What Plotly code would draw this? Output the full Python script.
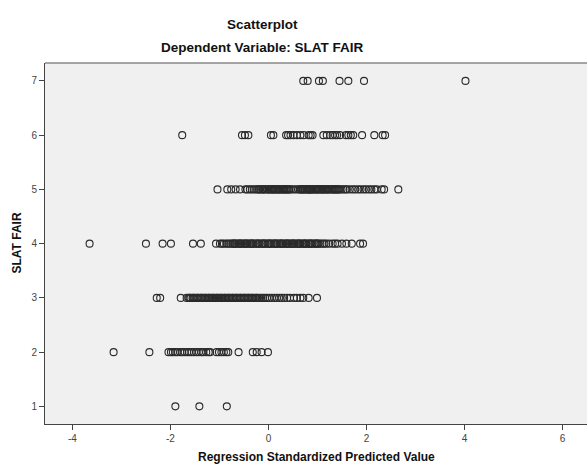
import plotly.graph_objects as go

# Regression standardized predicted values, grouped by observed SLAT FAIR level
pred_level_7 = [0.71, 0.80, 1.03, 1.11, 1.45, 1.63, 1.95, 4.02]
pred_level_6 = [-1.76, -0.54, -0.48, -0.41, 0.05, 0.10, 0.36, 0.40, 0.45, 0.51, 0.58, 0.65,
                0.72, 0.82, 0.86, 0.90, 1.12, 1.19, 1.26, 1.31, 1.36, 1.40, 1.46, 1.58,
                1.63, 1.68, 1.73, 1.91, 2.16, 2.33, 2.38]
pred_level_5 = [-1.04, -0.84, -0.76, -0.67, -0.58,
                -0.47, -0.43, -0.38, -0.34, -0.29, -0.25, -0.21, -0.17, -0.13, -0.09,
                -0.06, -0.02, 0.02, 0.05, 0.09, 0.13, 0.16, 0.20, 0.24, 0.27, 0.31,
                0.35, 0.39, 0.43, 0.46, 0.51, 0.56, 0.61, 0.66, 0.70, 0.74, 0.77, 0.81,
                0.84, 0.88, 0.92, 0.95, 0.99, 1.03, 1.06, 1.10, 1.14, 1.17, 1.21, 1.25,
                1.29, 1.33, 1.37, 1.41, 1.45, 1.49, 1.53, 1.57, 1.60,
                1.66, 1.72, 1.77, 1.83, 1.88, 1.94, 1.99, 2.05, 2.10, 2.16, 2.21,
                2.31, 2.36, 2.65,
                -0.19, -0.11, 0.00, 0.07, 0.11, 0.18, 0.22, 0.29, 0.33, 0.37, 0.41,
                0.64, 0.68, 0.72, 0.79, 0.83, 0.86, 0.90, 0.97, 1.01, 1.08, 1.12,
                1.19, 1.23, 1.31, 1.35, 1.39, 1.43]
pred_level_4 = [-3.65, -2.50, -2.16, -1.99, -1.54, -1.38, -1.07,
                -0.99, -0.95, -0.91, -0.86, -0.82, -0.78, -0.74, -0.70, -0.66, -0.62,
                -0.58, -0.54, -0.50, -0.46, -0.42, -0.38, -0.34, -0.30, -0.26, -0.22,
                -0.18, -0.14, -0.10, -0.06, -0.02, 0.02, 0.06, 0.10, 0.14, 0.18, 0.22,
                0.26, 0.30, 0.34, 0.38, 0.42, 0.46, 0.50, 0.54, 0.58, 0.62, 0.66, 0.70,
                0.74, 0.78, 0.82, 0.86, 0.90, 0.94, 0.98, 1.02, 1.06, 1.10, 1.14, 1.18,
                1.24, 1.31, 1.36, 1.41, 1.50, 1.59, 1.70, 1.87, 1.93,
                -0.72, -0.68, -0.60, -0.56, -0.48, -0.44, -0.36, -0.32, -0.24, -0.20,
                -0.12, -0.08, 0.00, 0.04, 0.12, 0.16, 0.24, 0.28, 0.36, 0.40, 0.48,
                0.52, 0.60, 0.64, 0.72, 0.76, 0.84, 0.88, 0.96, 1.00]
pred_level_3 = [-2.28, -2.21, -1.79,
                -1.67, -1.63, -1.59, -1.55, -1.51, -1.47, -1.43, -1.39, -1.35, -1.31,
                -1.27, -1.23, -1.19, -1.15, -1.11, -1.07, -1.03, -0.99, -0.95, -0.91,
                -0.87, -0.83, -0.79, -0.75, -0.71, -0.67, -0.63, -0.59, -0.55, -0.51,
                -0.47, -0.43, -0.39, -0.35, -0.31, -0.27, -0.23, -0.19, -0.15, -0.11,
                -0.07, -0.03, 0.02, 0.07, 0.12, 0.17, 0.22, 0.27, 0.32, 0.38, 0.44,
                0.52, 0.58, 0.65, 0.71, 0.82, 0.99,
                -1.61, -1.53, -1.45, -1.37, -1.29, -1.21, -1.13, -1.05, -0.97, -0.89,
                -0.81, -0.73, -0.65, -0.57, -0.49, -0.41, -0.33, -0.25]
pred_level_2 = [-3.16, -2.43,
                -2.04, -1.99, -1.95, -1.90, -1.86, -1.80, -1.76, -1.71, -1.66, -1.62,
                -1.57, -1.52, -1.47, -1.42, -1.37, -1.33, -1.27, -1.22, -1.19,
                -1.06, -1.01, -0.96, -0.91, -0.86, -0.82, -0.61,
                -0.32, -0.24, -0.14, -0.01]
pred_level_1 = [-1.90, -1.41, -0.85]

levels = [7, 6, 5, 4, 3, 2, 1]
groups = [pred_level_7, pred_level_6, pred_level_5, pred_level_4,
          pred_level_3, pred_level_2, pred_level_1]

x_ticks = [-4, -2, 0, 2, 4, 6]
x_tick_labels = ["-4", "-2", "0", "2", "4", "6"]
y_ticks = [1, 2, 3, 4, 5, 6, 7]

title_text = "Scatterplot"
subtitle_text = "Dependent Variable: SLAT FAIR"
x_title = "Regression Standardized Predicted Value"
y_title = "SLAT FAIR"

xs, ys = [], []
for lvl, vals in zip(levels, groups):
    xs.extend(vals)
    ys.extend([lvl] * len(vals))

FONT = "Arial, 'Liberation Sans', sans-serif"

fig = go.Figure()
fig.add_trace(go.Scatter(
    x=xs, y=ys, mode="markers",
    marker=dict(symbol="circle-open", size=7, color="#2b2b2b",
                line=dict(width=1.1, color="#2b2b2b")),
    showlegend=False, hoverinfo="x+y",
))

fig.update_layout(
    width=587, height=466,
    margin=dict(l=45, r=0, t=63, b=42),
    paper_bgcolor="white",
    plot_bgcolor="#f0f0f0",
    font=dict(family=FONT, size=10, color="#444444"),
    xaxis=dict(
        range=[-4.56, 6.5], tickvals=x_ticks, ticktext=x_tick_labels,
        ticks="outside", ticklen=5,
        tickcolor="#444444", showline=True, linecolor="#444444", linewidth=1,
        showgrid=False, zeroline=False, tickfont=dict(size=10, color="#444444"),
    ),
    yaxis=dict(
        range=[0.675, 7.33], tickvals=y_ticks, ticks="outside", ticklen=5,
        tickcolor="#444444", showline=True, linecolor="#444444", linewidth=1,
        showgrid=False, zeroline=False, tickfont=dict(size=10, color="#444444"),
    ),
    shapes=[dict(type="line", xref="paper", yref="paper", x0=0, x1=1, y0=1, y1=1,
                 line=dict(color="#8a8a8a", width=1.5))],
    annotations=[
        dict(text="<b>%s</b>" % title_text, xref="paper", yref="paper",
             x=0.402, y=1.108, xanchor="center", yanchor="middle", showarrow=False,
             font=dict(family=FONT, size=13.5, color="#111111")),
        dict(text="<b>%s</b>" % subtitle_text, xref="paper", yref="paper",
             x=0.402, y=1.0416, xanchor="center", yanchor="middle", showarrow=False,
             font=dict(family=FONT, size=13.5, color="#111111")),
        dict(text="<b>%s</b>" % x_title, xref="paper", yref="paper",
             x=0.5, y=-0.0914, xanchor="center", yanchor="middle", showarrow=False,
             font=dict(family=FONT, size=12, color="#111111")),
        dict(text="<b>%s</b>" % y_title, xref="paper", yref="paper",
             x=-0.0535, y=0.5, xanchor="center", yanchor="middle", showarrow=False,
             textangle=-90, font=dict(family=FONT, size=12, color="#111111")),
    ],
)

fig.write_html("out.html",
               config={"displayModeBar": False},
               post_script="document.body.style.margin='0px';"
                           "document.body.style.overflow='hidden';")
